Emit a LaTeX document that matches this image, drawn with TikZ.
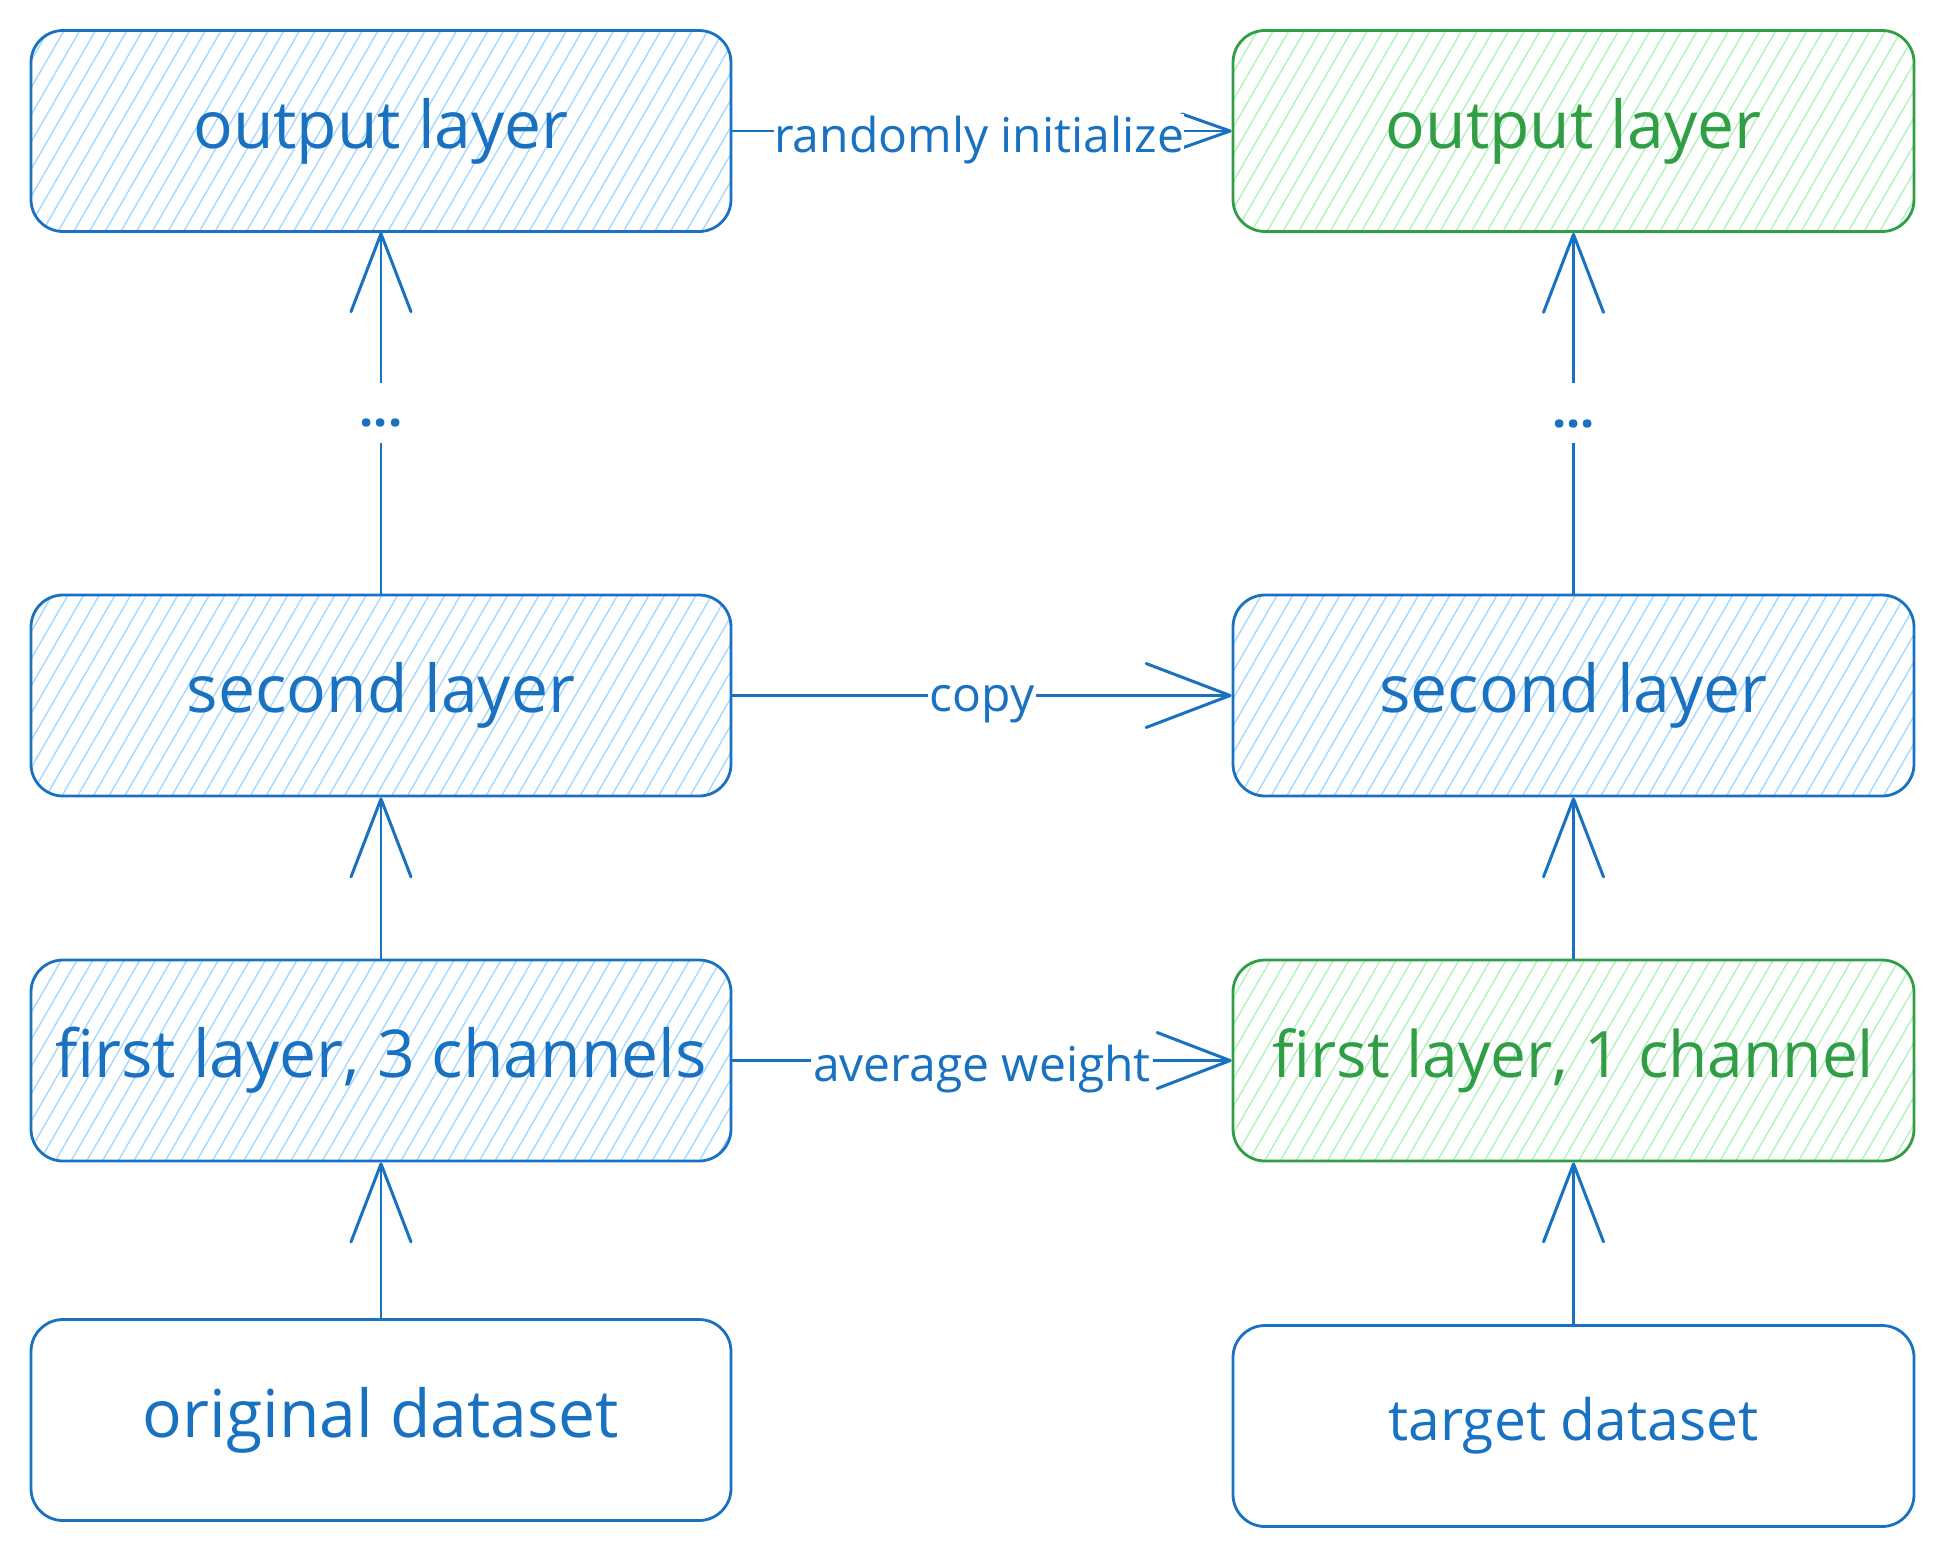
\documentclass[tikz,border=0pt]{standalone}
\usepackage{fontspec}
\setmainfont{Open Sans}
\usetikzlibrary{arrows.meta,patterns.meta}
\definecolor{eblue}{HTML}{1971C2}
\definecolor{egreen}{HTML}{2F9E44}
\definecolor{hblue}{HTML}{A5D8FF}
\definecolor{hgreen}{HTML}{B2F2BB}
\begin{document}
\begin{tikzpicture}[x=1pt,y=-1pt,
  box/.style={draw=eblue, line width=2.8pt, rounded corners=32pt, minimum height=201pt,
    inner sep=0pt, text=eblue, font=\fontsize{66}{74}\selectfont},
  lbox/.style={box, minimum width=700pt},
  rbox/.style={box, minimum width=681pt},
  bluehatch/.style={pattern={Lines[angle=60,distance=13.6pt,line width=1.4pt]}, pattern color=hblue},
  greenhatch/.style={draw=egreen, text=egreen, pattern={Lines[angle=60,distance=13.6pt,line width=1.4pt]}, pattern color=hgreen},
  arr/.style={draw=eblue, line width=2.6pt},
  tipv/.style={-{Straight Barb[length=78pt,width=60pt,line width=3pt,round]}},
  elabel/.style={fill=white, inner sep=2pt, yshift=-9pt, text=eblue, font=\fontsize{48}{56}\selectfont},
  dots/.style={fill=white, inner xsep=4pt, inner ysep=6pt, text height=38pt, text depth=10pt,
    text=eblue, font=\fontsize{50}{56}\bfseries\selectfont}
]
\useasboundingbox (0,0) rectangle (1943,1556);

% left column
\node[lbox, bluehatch] (oL) at (381,131) {output layer};
\node[lbox, bluehatch] (sL) at (381,695.5) {second layer};
\node[lbox, bluehatch] (fL) at (381,1060.5) {first layer, 3 channels};
\node[lbox] (dL) at (381,1420) {original dataset};

% right column
\node[rbox, greenhatch] (oR) at (1573.5,131) {output layer};
\node[rbox, bluehatch] (sR) at (1573.5,695.5) {second layer};
\node[rbox, greenhatch, font=\fontsize{64}{72}\selectfont] (fR) at (1573.5,1060.5) {first layer, 1 channel};
\node[rbox, font=\fontsize{57}{64}\selectfont] (dR) at (1573.5,1426) {target dataset};

% vertical arrows
\draw[arr, tipv] (dL.north) -- (fL.south);
\draw[arr, tipv] (fL.north) -- (sL.south);
\draw[arr, tipv] (sL.north) -- node[dots] (dotsL) {...} (oL.south);
\draw[arr, tipv] (dR.north) -- (fR.south);
\draw[arr, tipv] (fR.north) -- (sR.south);
\draw[arr, tipv] (sR.north) -- node[dots] (dotsR) {...} (oR.south);

% horizontal arrows
\draw[arr, -{Straight Barb[length=48pt,width=34pt,line width=3pt,round]}]
  (oL.east) -- node[elabel, inner xsep=0pt, pos=0.495] (l1) {randomly initialize} (oR.west);
\draw[arr, -{Straight Barb[length=84pt,width=64pt,line width=3pt,round]}]
  (sL.east) -- node[elabel] (l2) {copy} (sR.west);
\draw[arr, -{Straight Barb[length=73pt,width=56pt,line width=3pt,round]}]
  (fL.east) -- node[elabel] (l3) {average weight} (fR.west);
\end{tikzpicture}
\end{document}
